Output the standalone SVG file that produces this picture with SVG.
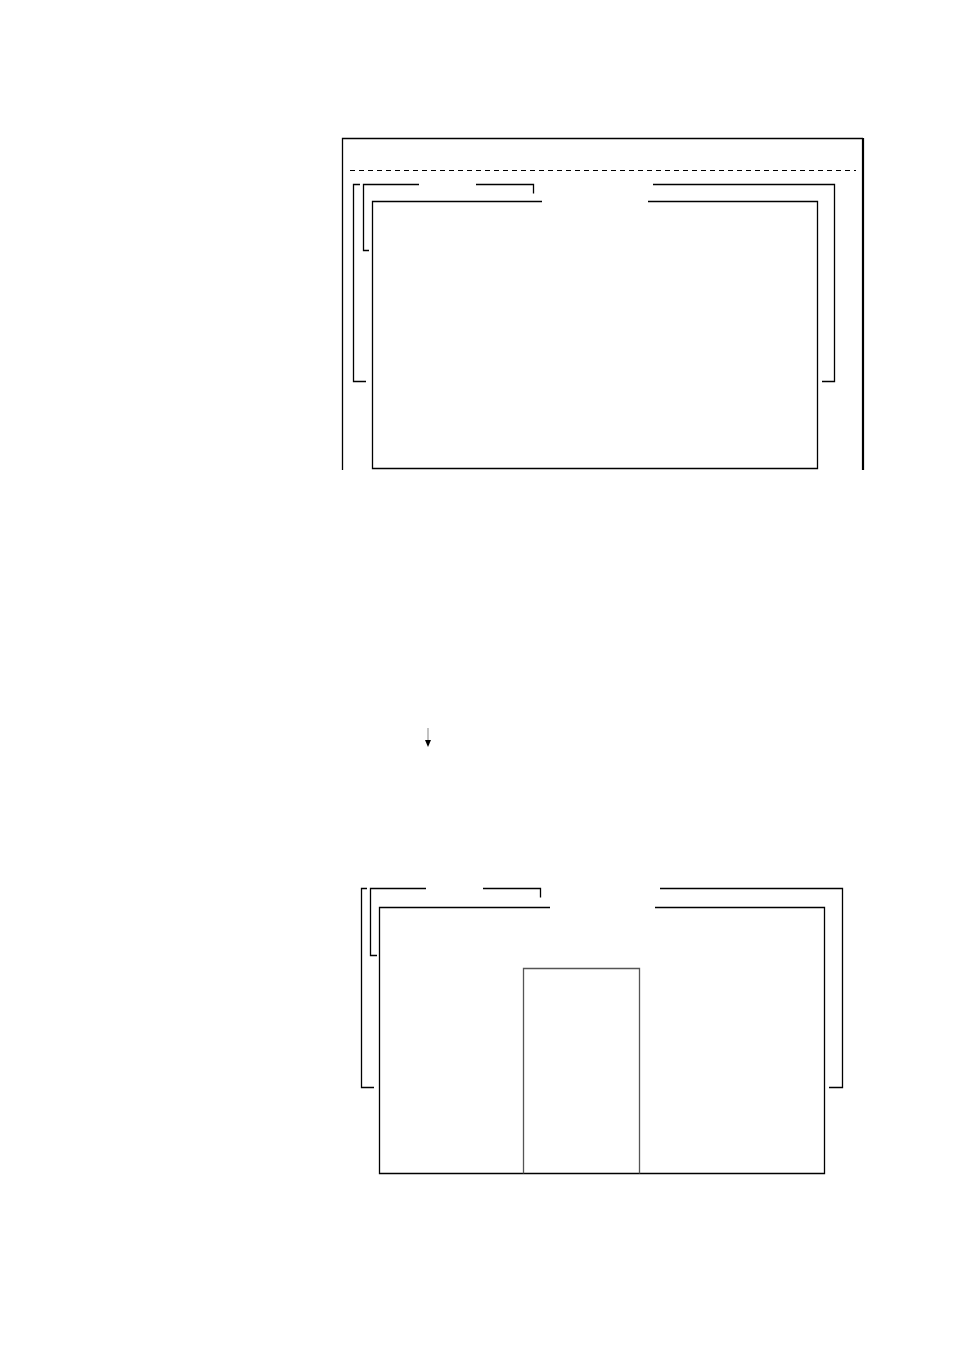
<svg xmlns="http://www.w3.org/2000/svg" width="954" height="1351" viewBox="0 0 954 1351">
<defs>
<style>
.ln{fill:none;stroke:#000;stroke-width:1.3}
.gr{fill:none;stroke:#555;stroke-width:1.3}
.ds{fill:none;stroke:#000;stroke-width:1.2;stroke-dasharray:5,4}
</style>
<marker id="ah" markerWidth="6" markerHeight="6" refX="3" refY="5" orient="auto" markerUnits="userSpaceOnUse"><path d="M0,0 L3,6 L6,0 Z" fill="#000" transform="rotate(-90 3 3)"/></marker>
</defs>
<rect width="954" height="1351" fill="#fff"/>
<g id="top-diagram">
<g id="outer-frame">
<path class="ln" d="M342.5,470 V138.5 H863"/>
<path d="M863,138 V470" fill="none" stroke="#000" stroke-width="2.2"/>
<path class="ds" d="M350,170.5 H856"/>
</g>
<g id="bracket-a1"><path class="ln" d="M360,184.5 H353.5 V381.5 H366"/></g>
<g id="bracket-b1"><path class="ln" d="M419,184.5 H363.5 V250.5 H369 M476,184.5 H533.5 V193.5"/></g>
<g id="bracket-r1"><path class="ln" d="M653,184.5 H834.5 V381.5 H822"/></g>
<g id="inner-box1"><path class="ln" d="M542,201.5 H372.5 V468.5 H817.5 V201.5 H648"/></g>
</g>
<g id="connectors">
<path d="M428,728 V745" stroke="#999" stroke-width="1.2" fill="none"/>
<path d="M425,740 L428,747 L431,740 Z" fill="#000"/>
</g>
<g id="bottom-diagram">
<g id="bracket-a2"><path class="ln" d="M367,888.5 H361.5 V1087.5 H374"/></g>
<g id="bracket-b2"><path class="ln" d="M426,888.5 H370.5 V955.5 H377 M483,888.5 H540.5 V897.5"/></g>
<g id="bracket-r2"><path class="ln" d="M660,888.5 H842.5 V1087.5 H829"/></g>
<g id="inner-box2"><path class="ln" d="M550,907.5 H379.5 V1173.5 H824.5 V907.5 H655"/></g>
<g id="center-box"><path class="gr" d="M523.5,1173.5 V968.5 H639.5 V1173.5"/></g>
</g>
</svg>
